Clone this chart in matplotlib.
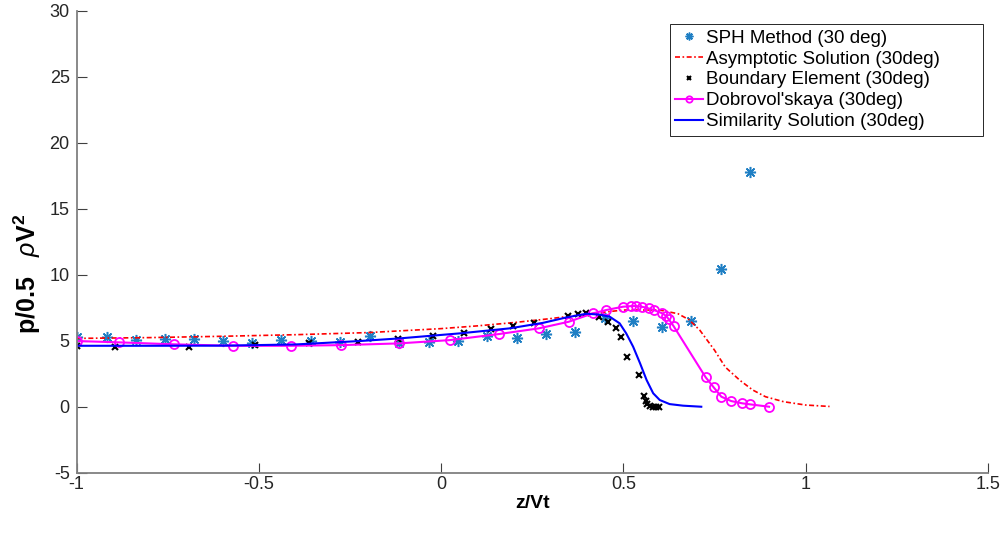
import matplotlib
matplotlib.use('Agg')
import matplotlib.pyplot as plt

plt.rcParams['font.family'] = ['Liberation Sans', 'DejaVu Sans']
plt.rcParams['mathtext.fontset'] = 'custom'
plt.rcParams['mathtext.rm'] = 'Liberation Sans'
plt.rcParams['mathtext.it'] = 'Liberation Sans:italic'
plt.rcParams['mathtext.bf'] = 'Liberation Sans:bold'
plt.rcParams['axes.unicode_minus'] = False

# ---- data ----
sph_x = [-1, -0.918, -0.838, -0.759, -0.679, -0.599, -0.519, -0.439, -0.357, -0.278,
         -0.196, -0.115, -0.034, 0.046, 0.127, 0.207, 0.287, 0.367, 0.449, 0.527,
         0.607, 0.687, 0.767, 0.848]
sph_y = [5.26, 5.26, 5.05, 5.17, 5.10, 4.98, 4.86, 5.05, 5.00, 4.92,
         5.33, 4.85, 4.88, 4.98, 5.33, 5.18, 5.55, 5.65, 6.70, 6.52,
         6.02, 6.52, 10.45, 17.76]

asym_x = [-1, -0.8, -0.6, -0.4, -0.2, 0, 0.1, 0.2, 0.3, 0.4, 0.5, 0.6, 0.65, 0.68,
          0.71, 0.75, 0.78, 0.82, 0.855, 0.89, 0.94, 1.0, 1.066]
asym_y = [5.18, 5.24, 5.34, 5.46, 5.62, 5.92, 6.13, 6.38, 6.68, 7.02, 7.33, 7.33, 7.05, 6.6,
          5.8, 4.3, 3.0, 2.0, 1.27, 0.76, 0.38, 0.13, 0.02]

bem_x = [-1, -0.896, -0.692, -0.512, -0.362, -0.228, -0.118, -0.022, 0.062, 0.138,
         0.197, 0.254, 0.348, 0.376, 0.399, 0.433, 0.458, 0.479, 0.493, 0.510,
         0.542, 0.557, 0.561, 0.566, 0.572, 0.581, 0.591, 0.598]
bem_y = [4.60, 4.55, 4.55, 4.67, 4.85, 4.92, 5.11, 5.36, 5.61, 5.86,
         6.11, 6.32, 6.87, 7.00, 7.07, 6.77, 6.44, 5.94, 5.30, 3.79,
         2.40, 0.81, 0.45, 0.20, 0.05, 0.0, 0.0, 0.0]

dob_x = [-1, -0.883, -0.733, -0.571, -0.411, -0.274, -0.116, 0.024, 0.159, 0.268,
         0.350, 0.417, 0.453, 0.499, 0.522, 0.536, 0.551, 0.570, 0.584, 0.607,
         0.618, 0.625, 0.638, 0.726, 0.748, 0.769, 0.796, 0.826, 0.848, 0.900]
dob_y = [4.98, 4.88, 4.73, 4.62, 4.62, 4.67, 4.80, 5.05, 5.51, 5.94,
         6.44, 7.08, 7.33, 7.58, 7.63, 7.63, 7.58, 7.45, 7.33, 7.08,
         6.87, 6.62, 6.11, 2.23, 1.47, 0.76, 0.43, 0.26, 0.18, 0.0]

sim_x = [-1, -0.8, -0.6, -0.4, -0.223, -0.114, 0.051, 0.188, 0.28, 0.344, 0.399, 0.435,
         0.463, 0.49, 0.508, 0.527, 0.546, 0.564, 0.582, 0.6, 0.627, 0.664, 0.714]
sim_y = [4.62, 4.62, 4.63, 4.72, 4.98, 5.18, 5.56, 5.94, 6.36, 6.77, 7.05, 6.98,
         6.82, 6.32, 5.56, 4.55, 3.29, 2.02, 1.02, 0.51, 0.2, 0.08, 0.0]

labels = ['SPH Method (30 deg)', 'Asymptotic Solution (30deg)', 'Boundary Element (30deg)',
          "Dobrovol'skaya (30deg)", 'Similarity Solution (30deg)']
xticks = [-1, -0.5, 0, 0.5, 1, 1.5]
xtick_labels = ['-1', '-0.5', '0', '0.5', '1', '1.5']
yticks = [-5, 0, 5, 10, 15, 20, 25, 30]
ytick_labels = ['-5', '0', '5', '10', '15', '20', '25', '30']

# ---- figure ----
fig = plt.figure(figsize=(10.05, 5.38), dpi=100)
ax = fig.add_axes([0.0763, 0.1214, 0.9065, 0.8582])

ax.plot(sph_x, sph_y, linestyle='none', marker=(8, 2, 0), markersize=8, color='#1f7fc4',
        markeredgewidth=1.1, label=labels[0])
ax.plot(asym_x, asym_y, linestyle='-.', color='#ff0000', linewidth=1.2,
        dashes=(3, 1.5, 1, 1.5), label=labels[1])
ax.plot(bem_x, bem_y, linestyle='none', marker='x', markersize=4.5, color='black',
        markeredgewidth=1.5, label=labels[2])
ax.plot(dob_x, dob_y, linestyle='-', color='#ff00ff', linewidth=1.5, marker='o',
        markersize=6.5, markerfacecolor='none', markeredgewidth=1.3, label=labels[3])
ax.plot(sim_x, sim_y, linestyle='-', color='#0000ff', linewidth=1.5, label=labels[4])

ax.set_xlim(-1, 1.5)
ax.set_ylim(-5, 30)
ax.set_xticks(xticks)
ax.set_xticklabels(xtick_labels)
ax.set_yticks(yticks)
ax.set_yticklabels(ytick_labels)

for s in ['top', 'right']:
    ax.spines[s].set_visible(False)
for s in ['left', 'bottom']:
    ax.spines[s].set_color('#808080')
    ax.spines[s].set_linewidth(1.3)
ax.tick_params(direction='in', length=7, width=0.8, color='#404040',
               labelsize=13, labelcolor='#262626')
ax.tick_params(axis='x', pad=2.5)
ax.tick_params(axis='y', pad=5)

ax.set_xlabel('z/Vt', fontsize=14, fontweight='bold', labelpad=1.5)
ax.set_ylabel(r'$\mathbf{p/0.5}\ \ \ \rho\mathbf{V}^{\mathbf{2}}$', fontsize=18)
ax.yaxis.set_label_coords(-0.037, 0.43)

leg = ax.legend(loc='upper left', bbox_to_anchor=(0.651, 0.5, 0.3436, 0.472), mode='expand',
                fontsize=13.5, frameon=True, fancybox=False, edgecolor='#262626',
                framealpha=1, borderpad=0.3, labelspacing=0.2, handlelength=1.45,
                handletextpad=0.2, borderaxespad=0.0, markerscale=0.7)
leg.get_frame().set_linewidth(0.7)

fig.savefig('out.png', dpi=100)
